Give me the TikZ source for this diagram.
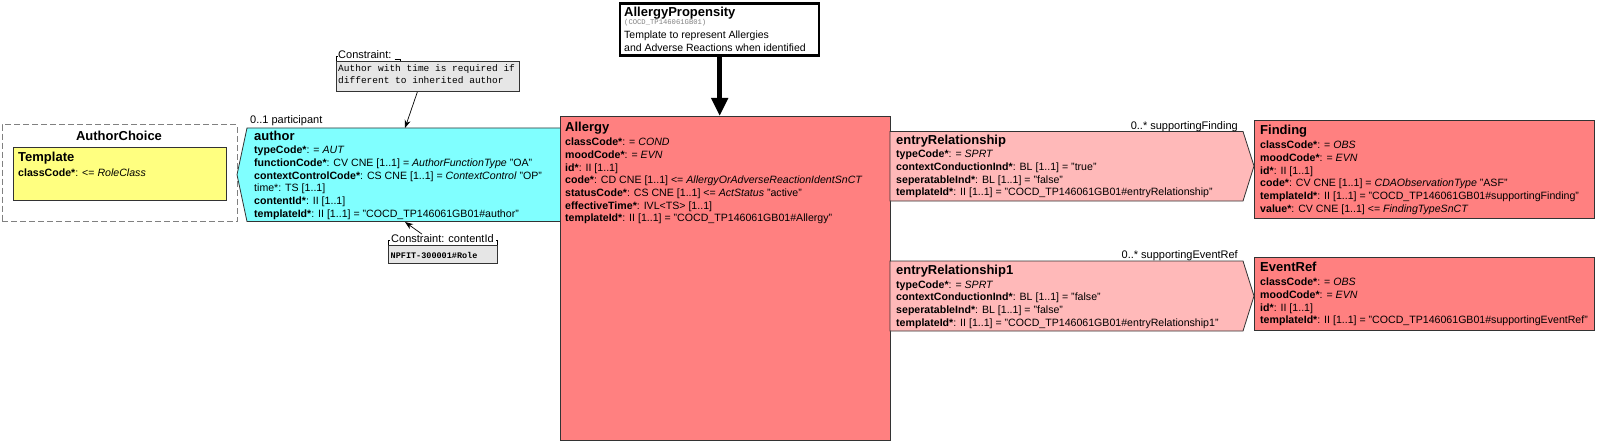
\documentclass[tikz,border=0pt]{standalone}
\usepackage{fontspec}
\setmainfont{Liberation Sans}
\setmonofont{Liberation Mono}
\usetikzlibrary{arrows.meta,calc}
\definecolor{cyanfill}{HTML}{80FFFF}
\definecolor{yelfill}{HTML}{FFFF80}
\definecolor{redfill}{HTML}{FF8080}
\definecolor{pinkfill}{HTML}{FFB9B9}
\definecolor{consfill}{HTML}{E6E6E6}
\definecolor{edgecol}{HTML}{333333}
\newcommand{\mytitle}{\fontsize{13}{15}\selectfont\bfseries}
\newcommand{\myattr}{\fontsize{10.6}{12.7}\selectfont}
\newcommand{\myS}{\rule{0pt}{9pt}}
\newcommand{\myT}{\rule{0pt}{11pt}}
\tikzset{
 box/.style={draw=edgecol, line width=0.8pt, inner sep=0pt, anchor=north west},
 txt/.style={inner sep=0pt, anchor=north west, align=left, font=\myattr},
 ttlnode/.style={inner sep=0pt, anchor=north west, font=\mytitle},
 lab/.style={inner sep=0pt, font=\fontsize{11}{13}\selectfont},
 cons/.style={box, fill=consfill, line width=0.6pt},
 thinarrow/.style={draw=black, line width=0.7pt, -{Stealth[length=8pt,width=6pt]}},
 outl/.style={draw=edgecol, line width=0.8pt},
 tick/.style={draw=black, line width=0.5pt},
}
\begin{document}
\begin{tikzpicture}[x=1pt,y=-1pt]
\fill[white] (0,0) rectangle (1605,441);
\useasboundingbox (0,0) rectangle (1605,441);

% ---------- AuthorChoice ----------
\node[box, draw=gray, dash pattern=on 6pt off 3pt, line width=1.2pt, minimum width=235pt, minimum height=97pt] (choice) at (1.5,124) {};
\node[font=\mytitle, inner sep=0pt, anchor=base] (choicet) at (119,140.5) {AuthorChoice};
\node[box, fill=yelfill, minimum width=213pt, minimum height=53pt] (tmpl) at (13,147) {};
\node[ttlnode] (tmplt) at (18,150) {\myT Template};
\node[txt] (tmpla) at (18,167) {\myS\textbf{classCode*}: <= \textit{RoleClass}};

% ---------- author ----------
\draw[outl, fill=cyanfill] (247,128) -- (562,128) -- (562,221.5) -- (247,221.5) -- (237,174.75) -- cycle;
\coordinate (a1tip) at (405,128);
\coordinate (a2tip) at (405,222);
\node[lab, anchor=base west] (part) at (250,123.5) {0..1 participant};
\node[ttlnode] (autht) at (254,129) {\myT author};
\node[txt] (autha) at (254,144.5) {\myS\textbf{typeCode*}: = \textit{AUT}\\
\textbf{functionCode*}: CV CNE [1..1] = \textit{AuthorFunctionType} "OA"\\
\textbf{contextControlCode*}: CS CNE [1..1] = \textit{ContextControl} "OP"\\
time*: TS [1..1]\\
\textbf{contentId*}: II [1..1]\\
\textbf{templateId*}: II [1..1] = "COCD\_TP146061GB01\#author"};

% ---------- Allergy ----------
\node[box, fill=redfill, minimum width=330pt, minimum height=323.5pt] (allergy) at (560,116) {};
\node[ttlnode] (allt) at (565,120) {\myT Allergy};
\node[txt] (alla) at (565,136.5) {\myS\textbf{classCode*}: = \textit{COND}\\
\textbf{moodCode*}: = \textit{EVN}\\
\textbf{id*}: II [1..1]\\
\textbf{code*}: CD CNE [1..1] <= \textit{AllergyOrAdverseReactionIdentSnCT}\\
\textbf{statusCode*}: CS CNE [1..1] <= \textit{ActStatus} "active"\\
\textbf{effectiveTime*}: IVL<TS> [1..1]\\
\textbf{templateId*}: II [1..1] = "COCD\_TP146061GB01\#Allergy"};

% ---------- AllergyPropensity ----------
\node[box, draw=black, line width=2.4pt, fill=white, minimum width=199pt, minimum height=52pt] (prop) at (619,2.2) {};
\node[ttlnode] (propt) at (624,5) {\myT AllergyPropensity};
\node[inner sep=0pt, anchor=base west, font=\ttfamily\fontsize{7.2}{9}\selectfont, text=gray] (propid) at (624,25) {(COCD\_TP146061GB01)};
\node[txt, font=\fontsize{10.5}{13}\selectfont] (propd) at (624,29.5) {\myS Template to represent Allergies\\and Adverse Reactions when identified};
\draw[line width=4.5pt, -{Triangle[length=18pt,width=16pt]}] (prop.south) -- (prop.south |- allergy.north);

% ---------- constraints ----------
\node[cons, minimum width=183pt, minimum height=30.5pt] (c1) at (336,61) {};
\node[lab, anchor=base west] (c1lab) at (338,59) {Constraint:};
\node[inner sep=0pt, anchor=north west, align=left, font=\ttfamily\fontsize{9.5}{12}\selectfont] (c1txt) at (338,63) {\rule{0pt}{8pt}Author with time is required if\\different to inherited author};
\draw[tick] (c1.north west) -- ++(0,-5) -- ++(2,0);
\draw[tick] ([xshift=3pt]c1lab.base east) -- ++(6,0) -- ++(0,2);
\draw[thinarrow] ([xshift=-10.5pt]c1.south) -- (a1tip);

\node[cons, minimum width=109pt, minimum height=18pt] (c2) at (388,245) {};
\node[lab, anchor=base west] (c2lab) at (391,242.3) {Constraint: contentId};
\node[inner sep=0pt, anchor=west, font=\ttfamily\bfseries\fontsize{8.5}{10}\selectfont] (c2txt) at ([xshift=2.5pt,yshift=-1pt]c2.west) {NPFIT-300001\#Role};
\draw[tick] (c2.north west) -- ++(0,-5) -- ++(2,0);
\draw[tick] (c2.north east) -- ++(0,-5) -- ++(-2,0);
\draw[thinarrow] ([xshift=31pt]c2lab.north west) -- (a2tip);

% ---------- entryRelationship ----------
\draw[outl, fill=pinkfill] (890,131.5) -- (1243,131.5) -- (1254,166) coordinate (er1tip) -- (1243,201) -- (890,201) -- cycle;
\node[lab, anchor=base east] (er1lab) at (1238,129) {0..* supportingFinding};
\node[ttlnode] (er1t) at (896,133.5) {\myT entryRelationship};
\node[txt] (er1a) at (896,148.5) {\myS\textbf{typeCode*}: = \textit{SPRT}\\
\textbf{contextConductionInd*}: BL [1..1] = "true"\\
\textbf{seperatableInd*}: BL [1..1] = "false"\\
\textbf{templateId*}: II [1..1] = "COCD\_TP146061GB01\#entryRelationship"};

\node[box, fill=redfill, minimum width=340pt, minimum height=98pt] (finding) at (1254,120) {};
\node[ttlnode] (findt) at (1260,123.5) {\myT Finding};
\node[txt] (finda) at (1260,139.5) {\myS\textbf{classCode*}: = \textit{OBS}\\
\textbf{moodCode*}: = \textit{EVN}\\
\textbf{id*}: II [1..1]\\
\textbf{code*}: CV CNE [1..1] = \textit{CDAObservationType} "ASF"\\
\textbf{templateId*}: II [1..1] = "COCD\_TP146061GB01\#supportingFinding"\\
\textbf{value*}: CV CNE [1..1] <= \textit{FindingTypeSnCT}};

% ---------- entryRelationship1 ----------
\draw[outl, fill=pinkfill] (890,261) -- (1243,261) -- (1254,296) coordinate (er2tip) -- (1243,331) -- (890,331) -- cycle;
\node[lab, anchor=base east] (er2lab) at (1238,258.5) {0..* supportingEventRef};
\node[ttlnode] (er2t) at (896,263.5) {\myT entryRelationship1};
\node[txt] (er2a) at (896,279) {\myS\textbf{typeCode*}: = \textit{SPRT}\\
\textbf{contextConductionInd*}: BL [1..1] = "false"\\
\textbf{seperatableInd*}: BL [1..1] = "false"\\
\textbf{templateId*}: II [1..1] = "COCD\_TP146061GB01\#entryRelationship1"};

\node[box, fill=redfill, minimum width=340pt, minimum height=73pt] (eventref) at (1254,257) {};
\node[ttlnode] (evt) at (1260,260) {\myT EventRef};
\node[txt] (eva) at (1260,276.5) {\myS\textbf{classCode*}: = \textit{OBS}\\
\textbf{moodCode*}: = \textit{EVN}\\
\textbf{id*}: II [1..1]\\
\textbf{templateId*}: II [1..1] = "COCD\_TP146061GB01\#supportingEventRef"};
\end{tikzpicture}
\end{document}
